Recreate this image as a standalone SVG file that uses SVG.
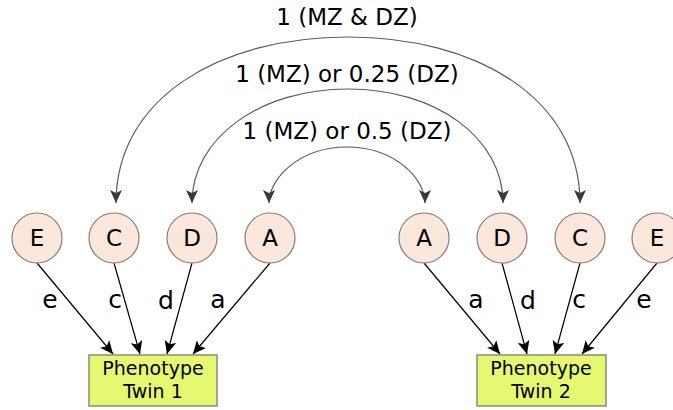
<svg xmlns="http://www.w3.org/2000/svg" width="673" height="410" viewBox="0 0 673 410">
  <style>
    .latent circle { fill: #fbe7dc; stroke: #8c7b73; stroke-width: 1.2; }
    .latent text, .label, .path-label { font-family: "DejaVu Sans", sans-serif; fill: #000; text-anchor: middle; }
    .latent text { font-size: 23px; }
    .path-label { font-size: 25px; }
    .label { font-size: 23px; }
    .pheno rect { fill: #e6f872; stroke: #8a8a7a; stroke-width: 1.5; }
    .pheno text { font-family: "DejaVu Sans", sans-serif; font-size: 19px; fill: #000; text-anchor: middle; }
    .corr { fill: none; stroke: #5a5a5a; stroke-width: 1.2; marker-end: url(#headGray); marker-start: url(#headGrayStart); }
    .load { stroke: #000; stroke-width: 1.2; marker-end: url(#headBlack); }
  </style>
  <defs>
    <marker id="headBlack" markerUnits="userSpaceOnUse" markerWidth="14" markerHeight="12" viewBox="0 0 14 12" refX="13" refY="6" orient="auto">
      <path d="M0,0 L13,6 L0,12 L3,6 Z" fill="#000"/>
    </marker>
    <marker id="headGray" markerUnits="userSpaceOnUse" markerWidth="14" markerHeight="12" viewBox="0 0 14 12" refX="13" refY="6" orient="auto">
      <path d="M0,0 L13,6 L0,12 L3,6 Z" fill="#3a3a3a"/>
    </marker>
    <marker id="headGrayStart" markerUnits="userSpaceOnUse" markerWidth="14" markerHeight="12" viewBox="0 0 14 12" refX="13" refY="6" orient="auto-start-reverse">
      <path d="M0,0 L13,6 L0,12 L3,6 Z" fill="#3a3a3a"/>
    </marker>
  </defs>

  <!-- connectors: twin correlations and path loadings -->
  <g id="connectors">
    <path class="corr" d="M116,203 C116,98 220,37 348,37 C476,37 580,98 580,203"/>
    <path class="corr" d="M192,203 C192,138 260,89 348,89 C436,89 503,138 503,203"/>
    <path class="corr" d="M269,203 C269,178 300,147 347,147 C394,147 425,178 425,203"/>

    <line class="load" x1="37" y1="263" x2="113" y2="354"/>
    <line class="load" x1="114" y1="263" x2="140" y2="354"/>
    <line class="load" x1="192" y1="263" x2="167" y2="354"/>
    <line class="load" x1="270" y1="263" x2="193" y2="354"/>

    <line class="load" x1="424" y1="263" x2="500" y2="354"/>
    <line class="load" x1="502" y1="263" x2="527" y2="354"/>
    <line class="load" x1="580" y1="263" x2="555" y2="354"/>
    <line class="load" x1="657" y1="263" x2="582" y2="354"/>

    <text class="label" x="347" y="25">1 (MZ &amp; DZ)</text>
    <text class="label" x="347" y="82">1 (MZ) or 0.25 (DZ)</text>
    <text class="label" x="347" y="139">1 (MZ) or 0.5 (DZ)</text>

    <text class="path-label" x="50" y="308">e</text>
    <text class="path-label" x="115" y="308">c</text>
    <text class="path-label" x="166" y="309">d</text>
    <text class="path-label" x="218" y="308">a</text>
    <text class="path-label" x="476" y="308">a</text>
    <text class="path-label" x="528" y="309">d</text>
    <text class="path-label" x="579" y="308">c</text>
    <text class="path-label" x="644" y="308">e</text>
  </g>

  <!-- latent factors, twin 1 -->
  <g id="E1" class="latent"><circle cx="37" cy="238" r="25"/><text x="37" y="246">E</text></g>
  <g id="C1" class="latent"><circle cx="114" cy="238" r="25"/><text x="114" y="246">C</text></g>
  <g id="D1" class="latent"><circle cx="192" cy="238" r="25"/><text x="192" y="246">D</text></g>
  <g id="A1" class="latent"><circle cx="270" cy="238" r="25"/><text x="270" y="246">A</text></g>

  <!-- latent factors, twin 2 -->
  <g id="A2" class="latent"><circle cx="424" cy="238" r="25"/><text x="424" y="246">A</text></g>
  <g id="D2" class="latent"><circle cx="502" cy="238" r="25"/><text x="502" y="246">D</text></g>
  <g id="C2" class="latent"><circle cx="580" cy="238" r="25"/><text x="580" y="246">C</text></g>
  <g id="E2" class="latent"><circle cx="657" cy="238" r="25"/><text x="657" y="246">E</text></g>

  <!-- observed phenotypes -->
  <g id="P1" class="pheno">
    <rect x="89" y="355" width="128" height="51"/>
    <text x="153" y="375">Phenotype</text>
    <text x="153" y="398">Twin 1</text>
  </g>
  <g id="P2" class="pheno">
    <rect x="477" y="355" width="129" height="51"/>
    <text x="541" y="375">Phenotype</text>
    <text x="541" y="398">Twin 2</text>
  </g>
</svg>
